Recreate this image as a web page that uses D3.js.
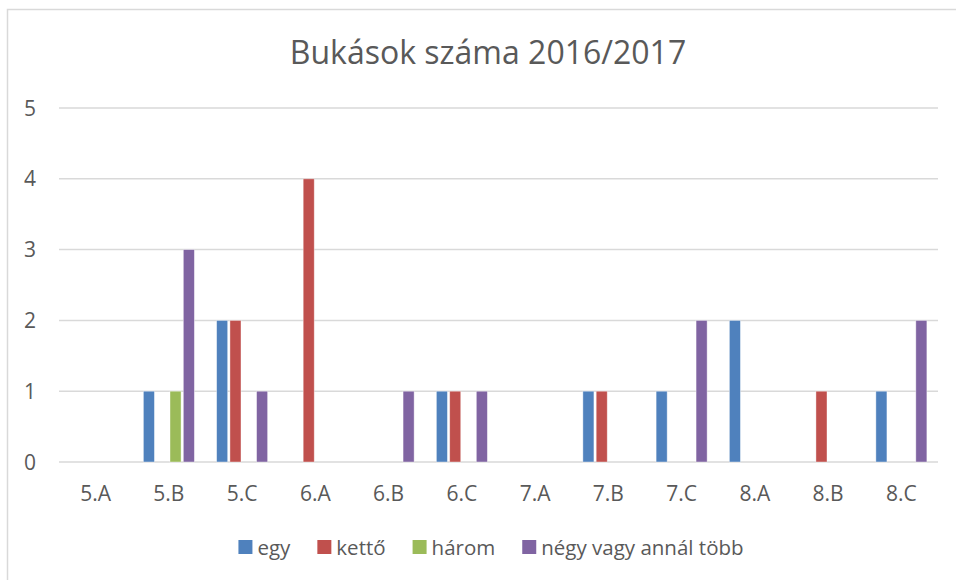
<!DOCTYPE html>
<html>
<head>
<meta charset="utf-8">
<script src="https://cdn.jsdelivr.net/npm/d3@7"></script>
<style>
  body { margin: 0; background: #fff; }
  text { font-family: "Open Sans", sans-serif; fill: #595959; }
</style>
</head>
<body>
<script>
// chart data
const title = "Bukások száma 2016/2017";
const classes = ["5.A", "5.B", "5.C", "6.A", "6.B", "6.C", "7.A", "7.B", "7.C", "8.A", "8.B", "8.C"];
const seriesNames = ["egy", "kettő", "három", "négy vagy annál több"];
const egy    = [0, 1, 2, 0, 0, 1, 0, 1, 1, 2, 0, 1];
const ketto  = [0, 0, 2, 4, 0, 1, 0, 1, 0, 0, 1, 0];
const harom  = [0, 1, 0, 0, 0, 0, 0, 0, 0, 0, 0, 0];
const negy   = [0, 3, 1, 0, 1, 1, 0, 0, 2, 0, 0, 2];
const yTicks = [0, 1, 2, 3, 4, 5];
const colors = ["#4F81BD", "#C0504D", "#9BBB59", "#8064A2"];

const drawViz = () => {
	const width = 956, height = 580;
	const margin = {top: 108, right: 18, bottom: 118, left: 59};

	const svg = d3.select("body").append("svg")
		.attr("width", width)
		.attr("height", height);

	// chart border
	svg.append("rect")
		.attr("x", 7.5).attr("y", 9.5)
		.attr("width", width + 10).attr("height", height + 10)
		.attr("fill", "none")
		.attr("stroke", "#d9d9d9")
		.attr("stroke-width", 1.5);

	svg.append("text")
		.attr("x", 488).attr("y", 64)
		.attr("text-anchor", "middle")
		.style("font-size", "32px")
		.text(title);

	const rows = classes.map((c, i) => ({cls: c, values: [egy[i], ketto[i], harom[i], negy[i]]}));

	const x0 = d3.scaleBand()
		.domain(classes)
		.range([margin.left, width - margin.right]);

	const x1 = d3.scaleBand()
		.domain(d3.range(seriesNames.length))
		.range([0, x0.bandwidth()])
		.paddingInner(0.17)
		.paddingOuter(0.835);

	const y = d3.scaleLinear()
		.domain([0, 5])
		.range([height - margin.bottom, margin.top]);

	// gridlines
	svg.append("g")
		.selectAll("line")
		.data(yTicks)
		.join("line")
		.attr("x1", margin.left).attr("x2", width - margin.right)
		.attr("y1", d => y(d)).attr("y2", d => y(d))
		.attr("stroke", "#d9d9d9")
		.attr("stroke-width", 1.5);

	// y labels
	svg.append("g")
		.selectAll("text")
		.data(yTicks)
		.join("text")
		.attr("x", 36)
		.attr("y", d => y(d) + 7.5)
		.attr("text-anchor", "end")
		.style("font-size", "21px")
		.text(d => d);

	// x labels
	svg.append("g")
		.selectAll("text")
		.data(classes)
		.join("text")
		.attr("x", d => x0(d) + x0.bandwidth() / 2)
		.attr("y", 501)
		.attr("text-anchor", "middle")
		.style("font-size", "21px")
		.text(d => d);

	// bars
	const groups = svg.append("g")
		.selectAll("g")
		.data(rows)
		.join("g")
		.attr("transform", d => `translate(${x0(d.cls)},0)`);

	groups.selectAll("rect")
		.data(d => d.values.map((v, k) => ({k, v})).filter(e => e.v > 0))
		.join("rect")
		.attr("x", d => x1(d.k))
		.attr("y", d => y(d.v))
		.attr("width", x1.bandwidth())
		.attr("height", d => y(0) - y(d.v))
		.attr("fill", d => colors[d.k])
		.attr("stroke", "#fff")
		.attr("stroke-opacity", 0.5)
		.attr("stroke-width", 0.8);

	// legend
	const legend = svg.append("g");
	const items = legend.selectAll("g")
		.data(seriesNames)
		.join("g");
	items.append("rect")
		.attr("width", 14).attr("height", 14)
		.attr("y", 540)
		.attr("fill", (d, i) => colors[i]);
	items.append("text")
		.attr("x", 19).attr("y", 555)
		.style("font-size", "20.5px")
		.text(d => d);

	let pos = 0;
	items.each(function () {
		const w = 19 + d3.select(this).select("text").node().getComputedTextLength();
		d3.select(this).attr("transform", `translate(${pos},0)`);
		pos += w + 27;
	});
	const total = pos - 27;
	legend.attr("transform", `translate(${491 - total / 2},0)`);
}

drawViz();
</script>
</body>
</html>
